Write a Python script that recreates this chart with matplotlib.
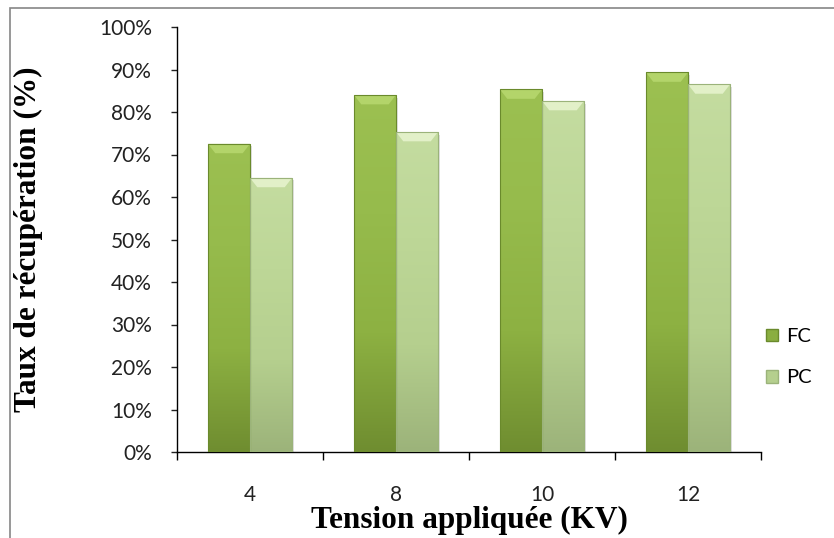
import numpy as np
import matplotlib.pyplot as plt
from matplotlib.patches import Rectangle, Polygon
from matplotlib.colors import LinearSegmentedColormap

# data
categories = ["4", "8", "10", "12"]
fc_values = [72.5, 84.0, 85.3, 89.3]
pc_values = [64.5, 75.3, 82.6, 86.5]

sans = ["Lato", "DejaVu Sans"]
serif = ["Liberation Serif", "DejaVu Serif"]

fig = plt.figure(figsize=(8.34, 5.38), dpi=100)
ax = fig.add_axes([177 / 834, 1 - 452 / 538, 584 / 834, 425 / 538])

# outer chart border
fig.add_artist(Rectangle((10 / 834, -0.01), 1.2, 1 - 8 / 538 + 0.01,
                         transform=fig.transFigure, fill=False,
                         edgecolor="#868686", linewidth=1.2))

fc_cmap = LinearSegmentedColormap.from_list("fc", ["#6f8d30", "#8db142", "#96bb4c", "#9cc051"])
pc_cmap = LinearSegmentedColormap.from_list("pc", ["#9cb37a", "#b5cf8e", "#bdd797", "#c4dca0"])

x = np.arange(len(categories))
width = 0.288
grad = np.linspace(0, 1, 256).reshape(-1, 1)


def draw_bar(xc, h, cmap, top, edge):
    x0 = xc - width / 2
    # soft shadow
    ax.add_patch(Rectangle((x0 + 0.012, 0), width, h - 0.6, facecolor="#000000",
                           alpha=0.12, edgecolor="none", zorder=2))
    rect = Rectangle((x0, 0), width, h, facecolor="none", edgecolor="none", zorder=3)
    ax.add_patch(rect)
    im = ax.imshow(grad, cmap=cmap, aspect="auto", origin="lower",
                   extent=(x0, x0 + width, 0, h), zorder=3)
    im.set_clip_path(rect)
    # bevel at the top
    bx, by = 0.05, 2.2
    ax.add_patch(Polygon([(x0, h), (x0 + width, h), (x0 + width - bx, h - by),
                          (x0 + bx, h - by)], closed=True, facecolor=top,
                         edgecolor="none", zorder=4))
    ax.add_patch(Rectangle((x0, 0), width, h, facecolor="none",
                           edgecolor=edge, linewidth=0.8, zorder=5))


for i in range(len(categories)):
    draw_bar(x[i] - width / 2, fc_values[i], fc_cmap, "#b3d46a", "#6a8a2c")
    draw_bar(x[i] + width / 2, pc_values[i], pc_cmap, "#e2f0c8", "#9bb37a")

ax.set_xlim(-0.5, len(categories) - 0.5)
ax.set_ylim(0, 100)

ax.set_yticks(np.arange(0, 101, 10))
ax.set_yticklabels([f"{v}%" for v in range(0, 101, 10)], fontsize=15, family=sans)
ax.tick_params(axis="y", direction="out", length=4, width=1, pad=14, colors="#222222")

ax.set_xticks(x)
ax.set_xticklabels(categories, fontsize=15, family=sans, color="#222222")
ax.set_xticks(np.arange(-0.5, len(categories), 1), minor=True)
ax.tick_params(axis="x", which="major", length=0, pad=24)
ax.tick_params(axis="x", which="minor", direction="out", length=6, width=1)

for s in ["top", "right"]:
    ax.spines[s].set_visible(False)
ax.spines["left"].set_linewidth(1)
ax.spines["bottom"].set_linewidth(1)

ax.set_xlabel("Tension appliquée (KV)", fontsize=22.5, fontweight="bold", family=serif)
ax.xaxis.set_label_coords(0.5, -0.128)
ax.set_ylabel("Taux de récupération (%)", fontsize=22.5, fontweight="bold", family=serif)
ax.yaxis.set_label_coords(-0.23, 0.5)

handles = [Rectangle((0, 0), 1, 1, facecolor="#8aae40", edgecolor="#6a8a2c"),
           Rectangle((0, 0), 1, 1, facecolor="#b5cf8e", edgecolor="#9bb37a")]
fig.legend(handles, ["FC", "PC"], loc="upper left",
           bbox_to_anchor=(748 / 834, 1 - 310 / 538), frameon=False,
           prop={"family": sans, "size": 14.5}, handlelength=0.6,
           handleheight=0.6, handletextpad=0.4, labelspacing=1.2)

fig.savefig("out.png", dpi=100)
